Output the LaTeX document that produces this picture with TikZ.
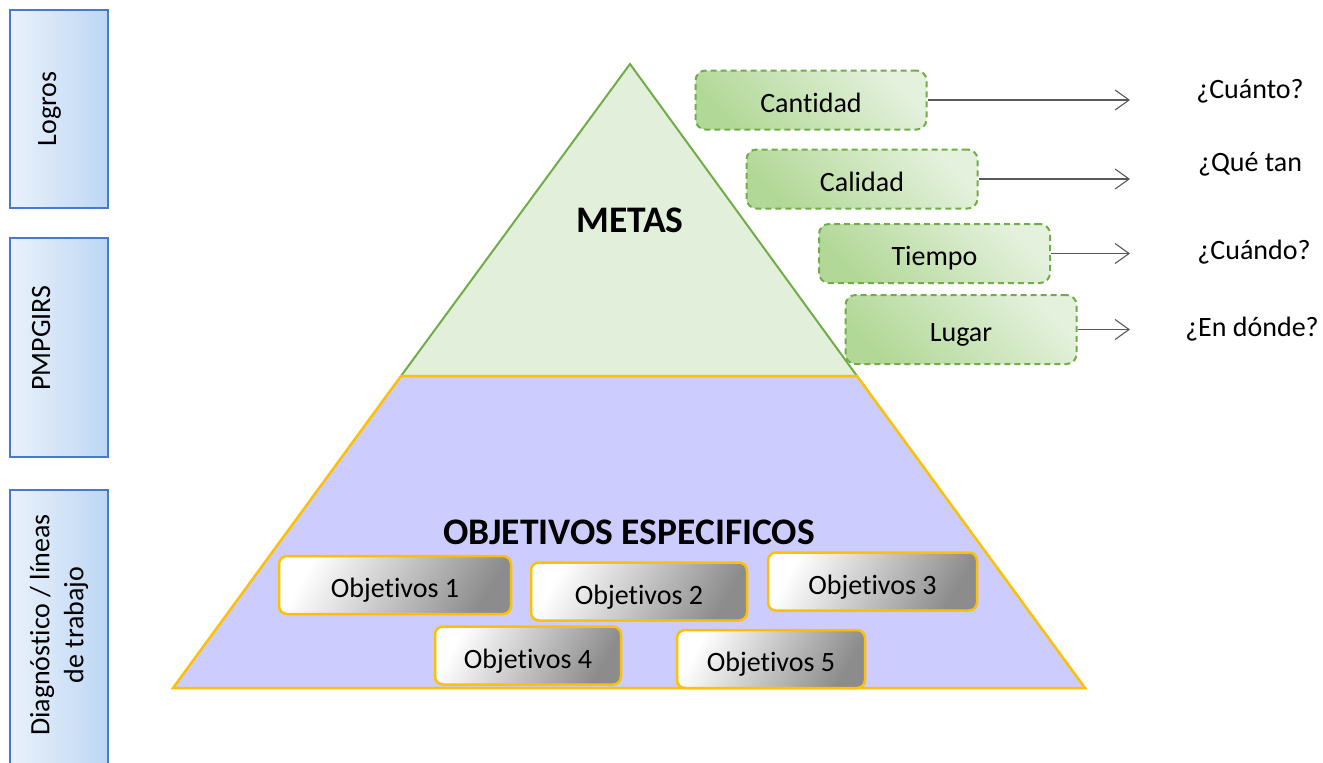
\documentclass[tikz,border=0pt]{standalone}
\usepackage{fontspec}
\setmainfont{Carlito}[Ligatures=NoCommon]
\usetikzlibrary{arrows.meta}
\definecolor{sideborder}{HTML}{4A78CC}
\definecolor{sidel}{HTML}{EAF1FB}
\definecolor{sider}{HTML}{BDD7F5}
\definecolor{gborder}{HTML}{70AD47}
\definecolor{glight}{HTML}{E4F1DD}
\definecolor{gdark}{HTML}{B2D897}
\definecolor{gtri}{HTML}{E2EFDA}
\definecolor{ptrap}{HTML}{CCCCFF}
\definecolor{ygold}{HTML}{FFC000}
\definecolor{ogray}{HTML}{8C8C8C}
\definecolor{conncol}{HTML}{595959}
\begin{document}
\begin{tikzpicture}[x=1pt,y=-1pt,
  txt/.style={font=\fontsize{28}{34}\selectfont},
  side/.style={draw=sideborder, line width=2.5pt, left color=sidel, right color=sider, minimum width=98pt, inner sep=0pt},
  sidetext/.style={rotate=90, txt, align=center, inner sep=0pt},
  attr/.style={draw=gborder, line width=2pt, dash pattern=on 6pt off 4pt, rounded corners=10pt, top color=glight, bottom color=gdark, shading angle=-45, minimum width=231pt, minimum height=59pt, inner sep=0pt, text height=24pt, text depth=0pt, txt},
  obj/.style={draw=ygold, line width=2.5pt, rounded corners=8pt, top color=white, bottom color=ogray, shading angle=60, minimum height=58pt, inner sep=0pt, text height=25pt, text depth=0pt, txt},
  conn/.style={draw=conncol, line width=1.1pt, -{Straight Barb[length=14pt,width=20pt,line width=1.1pt]}},
  quest/.style={txt, anchor=base, inner sep=0pt},
  big/.style={font=\bfseries\fontsize{37.5}{42}\selectfont, anchor=base, inner sep=0pt}
]
\useasboundingbox (0,0) rectangle (1323,763);

% left side boxes
\node[side, minimum height=198pt] (logros) at (59,109) {};
\node[sidetext, anchor=base] (logrost) at (56,109) {Logros};
\node[side, minimum height=219pt] (pmp) at (59,347.5) {};
\node[sidetext, anchor=base] (pmpt) at (50,338) {PMPGIRS};
\node[side, minimum height=280pt] (diag) at (59,630) {};
\node[sidetext] (diagt) at (59,625) {Diagnóstico / líneas\\de trabajo};

% pyramid
\coordinate (apex) at (630,64);
\coordinate (ml) at (401,376);
\coordinate (mr) at (857,376);
\coordinate (bl) at (173,688);
\coordinate (br) at (1085,688);
\filldraw[fill=gtri, draw=gborder, line width=2pt, line join=miter] (apex) -- (mr) -- (ml) -- cycle;
\filldraw[fill=ptrap, draw=ygold, line width=2.5pt, line join=miter] (ml) -- (mr) -- (br) -- (bl) -- cycle;

\node[big] (metas) at (630,232) {METAS};
\node[big] (objesp) at (629,544) {OBJETIVOS ESPECIFICOS};

% objective boxes
\node[obj, minimum width=232pt] (o1) at (395,585) {Objetivos 1};
\node[obj, minimum width=216pt] (o2) at (639,591.5) {Objetivos 2};
\node[obj, minimum width=209pt] (o3) at (872.5,581.5) {Objetivos 3};
\node[obj, minimum width=186pt] (o4) at (528,655.5) {Objetivos 4};
\node[obj, minimum width=188pt] (o5) at (771,659) {Objetivos 5};

% attribute boxes
\node[attr] (cant) at (811,100) {Cantidad};
\node[attr] (cal) at (862,179) {Calidad};
\node[attr] (tie) at (934.5,253.5) {Tiempo};
\node[attr, minimum height=69pt] (lug) at (961,329.5) {Lugar};

\coordinate (ax) at (1130,0);
\draw[conn] (cant.east) -- (cant.east -| ax);
\draw[conn] (cal.east) -- (cal.east -| ax);
\draw[conn] (tie.east) -- (tie.east -| ax);
\draw[conn] (lug.east) -- (lug.east -| ax);

\node[quest] (q1) at (1250,98) {¿Cuánto?};
\node[quest] (q2) at (1250,171) {¿Qué tan};
\node[quest] (q3) at (1254,259) {¿Cuándo?};
\node[quest] (q4) at (1252,336) {¿En dónde?};
\end{tikzpicture}
\end{document}
